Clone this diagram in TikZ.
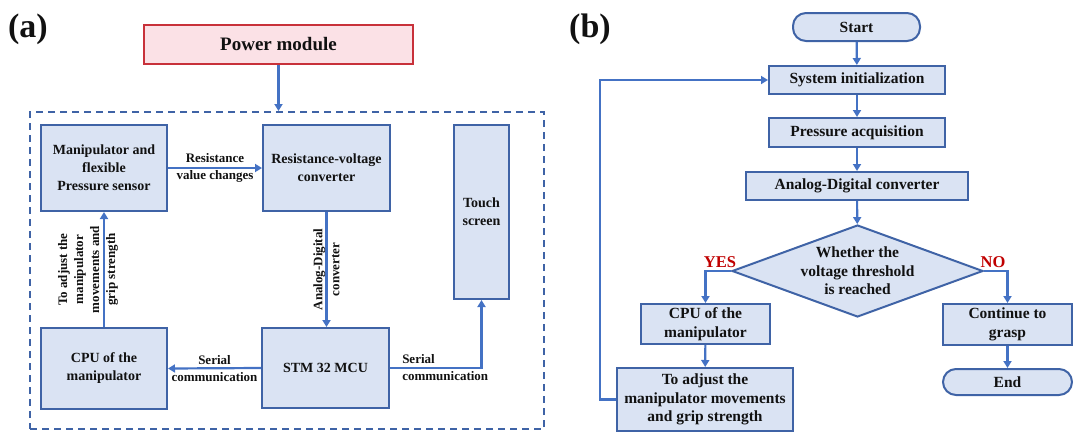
\documentclass[tikz,border=0pt]{standalone}
\usepackage{fontspec}
\setmainfont{Liberation Serif}
\usetikzlibrary{arrows.meta,shapes.geometric}
\definecolor{boxfill}{HTML}{DAE3F3}
\definecolor{boxline}{HTML}{3F63A6}
\definecolor{arrowblue}{HTML}{4472C4}
\definecolor{pinkfill}{HTML}{FBE1E6}
\definecolor{redline}{HTML}{C8313A}
\definecolor{yesno}{HTML}{C00000}
\definecolor{ink}{HTML}{111111}
\tikzset{
  blk/.style={draw=boxline, fill=boxfill, line width=2pt, inner sep=0pt,
    align=center, text=ink, font=\bfseries\fontsize{14}{18}\selectfont},
  blkb/.style={blk, font=\bfseries\fontsize{15.5}{18.5}\selectfont},
  term/.style={blkb, rounded corners=13pt},
  decision/.style={diamond, draw=boxline, fill=boxfill, line width=2pt,
    inner sep=0pt},
  power/.style={draw=redline, fill=pinkfill, line width=2pt, inner sep=0pt,
    text=ink, font=\bfseries\fontsize{19}{22}\selectfont},
  frame/.style={draw=boxline, line width=2pt, dash pattern=on 7pt off 5pt,
    inner sep=0pt},
  flow/.style={draw=arrowblue, line width=2.2pt,
    -{Triangle[length=7pt,width=8pt]}},
  lbl/.style={text=ink, align=center, inner sep=0pt,
    font=\bfseries\fontsize{13}{17}\selectfont},
  tag/.style={text=ink, inner sep=0pt, font=\bfseries\fontsize{34}{36}\selectfont},
  answer/.style={text=yesno, inner sep=0pt, font=\bfseries\fontsize{16.5}{18}\selectfont}
}
\begin{document}
\begin{tikzpicture}[x=1pt,y=-1pt]
\useasboundingbox (0,0) rectangle (1073,434);

% ---------- (a) hardware block diagram ----------
\node[tag] (ta) at (28,29) {(a)};
\node[power, minimum width=269pt, minimum height=39pt] (pm) at (278.5,44.5) {Power module};
\node[frame, minimum width=514pt, minimum height=317pt] (sys) at (287,270.5) {};

\node[blk, minimum width=126pt, minimum height=86pt] (man) at (104,168)
  {Manipulator and\\flexible\\Pressure sensor};
\node[blk, minimum width=127pt, minimum height=86pt] (rv) at (326.5,168)
  {Resistance-voltage\\converter};
\node[blk, minimum width=55pt, minimum height=174pt] (touch) at (481.5,212)
  {Touch\\screen};
\node[blk, minimum width=126pt, minimum height=81pt] (cpu) at (104,368.5)
  {CPU of the\\manipulator};
\node[blk, minimum width=127pt, minimum height=80pt] (stm) at (325.5,368)
  {STM 32 MCU};

\draw[flow] (pm.south) -- (pm.south |- sys.north);
\draw[flow] (man.east) -- (rv.west)
  node[lbl, midway, yshift=0.5pt] {Resistance\\value changes};
\draw[flow] (rv.south) -- (rv.south |- stm.north)
  node[lbl, midway, rotate=90] {Analog-Digital\\converter};
\draw[flow] (cpu.north) -- (man.south)
  node[lbl, midway, rotate=90, yshift=16pt, font=\bfseries\fontsize{13}{16}\selectfont]
  {To adjust the\\manipulator\\movements and\\grip strength};
\draw[flow] (stm.west) -- (cpu.east)
  node[lbl, midway] {Serial\\communication};
\draw[flow] (stm.east) -| (touch.south)
  node[lbl, pos=0.05, anchor=west, align=left, xshift=2pt] {Serial\\communication};

% ---------- (b) control flow chart ----------
\node[tag] (tb) at (590,29) {(b)};
\node[term, minimum width=127pt, minimum height=28pt] (start) at (856.5,27) {Start};
\node[blkb, minimum width=176pt, minimum height=28pt] (init) at (857,80) {System initialization};
\node[blkb, minimum width=176pt, minimum height=29pt] (press) at (857,132.5) {Pressure acquisition};
\node[blkb, minimum width=222pt, minimum height=28pt] (adc) at (857,186) {Analog-Digital converter};
\node[decision, minimum width=251pt, minimum height=92pt] (dia) at (857.5,271) {};
\node[lbl, font=\bfseries\fontsize{15.5}{18.5}\selectfont] (diatext) at (dia.center)
  {Whether the\\voltage threshold\\is reached};
\node[blkb, minimum width=129pt, minimum height=40pt] (cpub) at (705.5,324) {CPU of the\\manipulator};
\node[blkb, minimum width=176pt, minimum height=63pt] (adj) at (705,399.5)
  {To adjust the\\manipulator movements\\and grip strength};
\node[blkb, minimum width=129pt, minimum height=41pt] (cont) at (1007.5,324.5) {Continue to\\grasp};
\node[term, minimum width=129pt, minimum height=26pt] (stop) at (1007.5,382) {End};

\draw[flow] (start) -- (init);
\draw[flow] (init) -- (press);
\draw[flow] (press) -- (adc);
\draw[flow] (adc) -- (dia);
\draw[flow] (dia.west) -| (cpub.north);
\draw[flow] (dia.east) -| (cont.north);
\draw[flow] (cpub) -- (adj);
\draw[flow] (cont) -- (stop);
\draw[flow] (adj.west) -- ++(-16,0) |- (init.west);

\node[answer] (yes) at (720,262) {YES};
\node[answer] (no) at (993,262) {NO};
\end{tikzpicture}
\end{document}
